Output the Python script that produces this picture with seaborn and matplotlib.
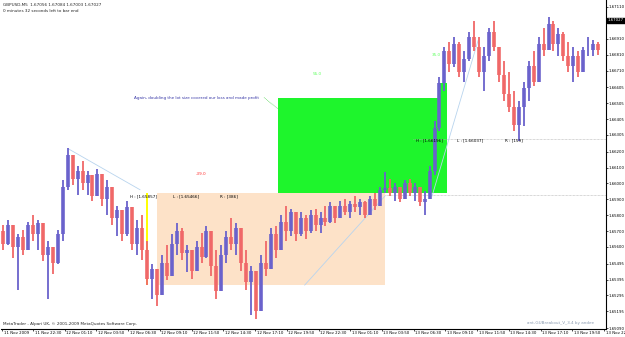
import matplotlib
matplotlib.use("Agg")
import matplotlib.pyplot as plt
import matplotlib.transforms as mtransforms
from matplotlib.patches import Rectangle
import pandas as pd
import seaborn as sns

# ---------------- data (GBPUSD M5, grouped 5 bars per drawn candle) ----------------
first_open = 1.6570
bar_step = 5
start_bar = -30
highs = [1.6574, 1.6577, 1.6572, 1.6568, 1.6571, 1.6576, 1.6580, 1.6577, 1.6569, 1.6564,
         1.6558, 1.6571, 1.6602, 1.6622, 1.6618, 1.6611, 1.6614, 1.6608, 1.6605, 1.6609,
         1.6605, 1.6602, 1.6593, 1.6586, 1.6583, 1.6589, 1.6580, 1.6577, 1.6580, 1.6564,
         1.6549, 1.6545, 1.6555, 1.6561, 1.6568, 1.6575, 1.6572, 1.6561, 1.6558, 1.6564,
         1.6569, 1.6573, 1.6565, 1.6558, 1.6561, 1.6570, 1.6578, 1.6575, 1.6567, 1.6558,
         1.6548, 1.6545, 1.6555, 1.6564, 1.6572, 1.6573, 1.6580, 1.6586, 1.6584, 1.6580,
         1.6582, 1.6580, 1.6583, 1.6584, 1.6582, 1.6586, 1.6588, 1.6586, 1.6589, 1.6590,
         1.6589, 1.6592, 1.6590, 1.6589, 1.6592, 1.6594, 1.6598, 1.6607, 1.6603, 1.6600,
         1.6598, 1.6602, 1.6603, 1.6600, 1.6598, 1.6595, 1.6611, 1.6639, 1.6667, 1.6686,
         1.6689, 1.6692, 1.6689, 1.6683, 1.6695, 1.6702, 1.6692, 1.6686, 1.6698, 1.6702,
         1.6686, 1.6677, 1.6670, 1.6658, 1.6652, 1.6664, 1.6677, 1.6683, 1.6692, 1.6698,
         1.6705, 1.6702, 1.6698, 1.6695, 1.6689, 1.6686, 1.6683, 1.6686, 1.6692, 1.6690,
         1.6689]
lows = [1.6558, 1.6561, 1.6553, 1.6533, 1.6555, 1.6559, 1.6564, 1.6558, 1.6551, 1.6527,
        1.6543, 1.6549, 1.6564, 1.6596, 1.6599, 1.6593, 1.6596, 1.6593, 1.6589, 1.6596,
        1.6586, 1.6580, 1.6574, 1.6567, 1.6564, 1.6567, 1.6558, 1.6555, 1.6552, 1.6536,
        1.6527, 1.6523, 1.6533, 1.6539, 1.6545, 1.6555, 1.6552, 1.6544, 1.6540, 1.6547,
        1.6550, 1.6553, 1.6542, 1.6527, 1.6536, 1.6550, 1.6558, 1.6555, 1.6545, 1.6533,
        1.6517, 1.6515, 1.6530, 1.6542, 1.6550, 1.6553, 1.6558, 1.6564, 1.6567, 1.6564,
        1.6567, 1.6565, 1.6569, 1.6570, 1.6569, 1.6573, 1.6575, 1.6575, 1.6578, 1.6580,
        1.6578, 1.6582, 1.6580, 1.6578, 1.6582, 1.6583, 1.6586, 1.6594, 1.6592, 1.6589,
        1.6588, 1.6590, 1.6592, 1.6589, 1.6586, 1.6580, 1.6592, 1.6605, 1.6633, 1.6658,
        1.6670, 1.6673, 1.6667, 1.6664, 1.6677, 1.6683, 1.6667, 1.6658, 1.6677, 1.6683,
        1.6664, 1.6652, 1.6645, 1.6633, 1.6627, 1.6636, 1.6652, 1.6661, 1.6670, 1.6680,
        1.6686, 1.6683, 1.6680, 1.6677, 1.6670, 1.6664, 1.6667, 1.6670, 1.6680, 1.6680,
        1.6681]
closes = [1.6562, 1.6574, 1.6560, 1.6566, 1.6558, 1.6574, 1.6568, 1.6575, 1.6555, 1.6560,
          1.6550, 1.6568, 1.6598, 1.6618, 1.6603, 1.6608, 1.6600, 1.6605, 1.6592, 1.6606,
          1.6590, 1.6598, 1.6578, 1.6583, 1.6568, 1.6585, 1.6562, 1.6572, 1.6558, 1.6540,
          1.6546, 1.6530, 1.6550, 1.6542, 1.6562, 1.6570, 1.6556, 1.6558, 1.6545, 1.6560,
          1.6554, 1.6570, 1.6548, 1.6532, 1.6555, 1.6566, 1.6562, 1.6572, 1.6550, 1.6538,
          1.6545, 1.6520, 1.6550, 1.6546, 1.6568, 1.6558, 1.6576, 1.6570, 1.6582, 1.6568,
          1.6578, 1.6570, 1.6580, 1.6574, 1.6578, 1.6576, 1.6586, 1.6578, 1.6586, 1.6582,
          1.6587, 1.6585, 1.6588, 1.6580, 1.6590, 1.6586, 1.6596, 1.6597, 1.6594, 1.6598,
          1.6590, 1.6600, 1.6594, 1.6598, 1.6588, 1.6590, 1.6608, 1.6635, 1.6663, 1.6683,
          1.6675, 1.6688, 1.6670, 1.6678, 1.6692, 1.6686, 1.6670, 1.6680, 1.6695, 1.6686,
          1.6668, 1.6656, 1.6648, 1.6637, 1.6648, 1.6660, 1.6674, 1.6664, 1.6688, 1.6684,
          1.6700, 1.6688, 1.6694, 1.6680, 1.6674, 1.6680, 1.6670, 1.6684, 1.6684, 1.6688,
          1.6684]

x_first_label = "11 Nov 2009"
x_tick_labels = ["11 Nov 22:30", "12 Nov 01:10", "12 Nov 03:50", "12 Nov 06:30",
                 "12 Nov 09:10", "12 Nov 11:50", "12 Nov 14:30", "12 Nov 17:10",
                 "12 Nov 19:50", "12 Nov 22:30", "13 Nov 01:10", "13 Nov 03:50",
                 "13 Nov 06:30", "13 Nov 09:10", "13 Nov 11:50", "13 Nov 14:30",
                 "13 Nov 17:10", "13 Nov 19:50", "13 Nov 22:30"]
x_tick_bars = [0, 32, 64, 96, 128, 160, 192, 224, 256, 288, 320, 352, 384, 416,
               448, 480, 512, 544, 576]
y_tick_values = [1.67110, 1.67010, 1.66910, 1.66810, 1.66710, 1.66605, 1.66505,
                 1.66405, 1.66305, 1.66200, 1.66100, 1.66000, 1.65900, 1.65800,
                 1.65700, 1.65600, 1.65495, 1.65395, 1.65295, 1.65195, 1.65090]
current_price = 1.67027
header_line1 = "GBPUSD,M5  1.67056 1.67084 1.67003 1.67027"
header_line2 = "0 minutes 32 seconds left to bar end"

# trade boxes: (start bar, end bar, low price, high price)
loss_box = (125, 355, 1.6536, 1.6594)
win_box = (247, 408.5, 1.6594, 1.6654)
win_box_tail = (408.5, 417.6, 1.6594, 1.6663)
entry_line = (115, 1.6536, 1.6594)
# trend lines: bars and prices of the two ends
trend_bars = [(35, 108), (274, 355), (402.5, 449)]
trend_prices = [(1.6622, 1.6596), (1.6536, 1.6592), (1.6592, 1.6690)]
level_lines = [(383, 1.6628), (355, 1.6593)]
label_row1 = ["H : [1.65857]", "L : [1.65466]", "R : [386]"]
label_row1_bars = [98, 141, 189]
label_row2 = ["H : [1.66196]", "L : [1.66037]", "R : [159]"]
label_row2_bars = [386, 428, 476]
pnl_texts = ["-39.0", "55.0", "35.0"]
pnl_bars = [164, 282, 402]
pnl_prices = [1.6606, 1.6669, 1.6681]
note_text = "Again, doubling the lot size covered our loss and made profit"

# ---------------- figure ----------------
sns.set_theme(style="white")
plt.rcParams["font.family"] = ["DejaVu Sans"]
FS = 3.0
FSY = 2.75
RED = "#f06868"
BLUE = "#6a62cc"

fig = plt.figure(figsize=(6.25, 3.37), dpi=100)
ax = fig.add_axes([1 / 625, 8 / 337, 605 / 625, 329 / 337])
ax.set_facecolor("white")
ax.set_xlim(-32.3, 578.0)
ax.set_ylim(1.65084, 1.67154)

# boxes
ax.add_patch(Rectangle((loss_box[0], loss_box[2]), loss_box[1] - loss_box[0],
                       loss_box[3] - loss_box[2], facecolor="#fde2c8", edgecolor="none", zorder=1))
ax.add_patch(Rectangle((win_box[0], win_box[2]), win_box[1] - win_box[0],
                       win_box[3] - win_box[2], facecolor="#1ef52c", edgecolor="none", zorder=1))
ax.add_patch(Rectangle((win_box_tail[0], win_box_tail[2]), win_box_tail[1] - win_box_tail[0],
                       win_box_tail[3] - win_box_tail[2], facecolor="#1ef52c", edgecolor="none", zorder=1))
ax.vlines(entry_line[0], entry_line[1], entry_line[2], color="#ffff00", lw=1.4, zorder=2)

for (b0, p0) in level_lines:
    ax.plot([b0, 578], [p0, p0], color="#b0b0b0", lw=0.5, ls=(0, (1, 1)), zorder=2)

# trend lines via seaborn
for tb, tp in zip(trend_bars, trend_prices):
    sns.lineplot(x=list(tb), y=list(tp), ax=ax, color="#b8d4ee", lw=0.6, zorder=2)

# candles
n = len(highs)
xs = [start_bar + bar_step * i for i in range(n)]
opens = [first_open] + closes[:-1]
df = pd.DataFrame({"x": xs, "high": highs, "low": lows, "open": opens, "close": closes})
df["color"] = [BLUE if c >= o else RED for o, c in zip(df["open"], df["close"])]
ax.vlines(df["x"], df["low"], df["high"], colors=df["color"], lw=1.3, zorder=3)
ax.vlines(df["x"], df[["open", "close"]].min(axis=1), df[["open", "close"]].max(axis=1),
          colors=df["color"], lw=2.6, zorder=3)

# texts
for t, b in zip(label_row1, label_row1_bars):
    ax.text(b, 1.6592, t, fontsize=FS, color="black", va="center", ha="left", zorder=5)
for t, b in zip(label_row2, label_row2_bars):
    ax.text(b, 1.6627, t, fontsize=FS, color="black", va="center", ha="left", zorder=5)
for t, b, p, c in zip(pnl_texts, pnl_bars, pnl_prices, ["#ff3030", "#60ff60", "#60ff60"]):
    ax.text(b, p, t, fontsize=FS, color=c, va="center", ha="left", zorder=5)
ax.text(102, 1.6654, note_text, fontsize=FS, color="#3a3aa8", va="center", ha="left", zorder=5)
ax.plot([233, 247], [1.6654, 1.6647], color="#40d040", lw=0.5, ls=(0, (1, 1)), zorder=5)

fig.text(3 / 625, 1 - 5 / 337, header_line1, fontsize=FS, va="center", ha="left")
fig.text(3 / 625, 1 - 11 / 337, header_line2, fontsize=FS, va="center", ha="left")
fig.text(3 / 625, 1 - 324 / 337, "MetaTrader - Alpari UK, \u00a9 2001-2009 MetaQuotes Software Corp.",
         fontsize=FS, va="center", ha="left")
fig.text(527 / 625, 1 - 323 / 337, "ant-GUBreakout_V_3.4 by andee", fontsize=FS,
         color="#8a9ab0", va="center", ha="left")

# axes styling
for side in ["top", "left"]:
    ax.spines[side].set_visible(False)
for side in ["right", "bottom"]:
    ax.spines[side].set_color("black")
    ax.spines[side].set_linewidth(0.8)
ax.yaxis.tick_right()
ax.set_yticks(y_tick_values)
ax.set_yticklabels([f"{v:.5f}" for v in y_tick_values])
ax.tick_params(axis="y", which="both", right=True, length=1.5, width=0.5, pad=0.5,
               labelsize=FSY, colors="black")
ax.set_xticks([-31] + x_tick_bars)
ax.set_xticklabels([x_first_label] + x_tick_labels)
ax.tick_params(axis="x", bottom=True, length=1.5, width=0.5, pad=0.2, labelsize=FSY, colors="black")
offset = mtransforms.ScaledTranslation(1.5 / 100, 0, fig.dpi_scale_trans)
for lbl in ax.get_xticklabels():
    lbl.set_horizontalalignment("left")
    lbl.set_transform(lbl.get_transform() + offset)
ax.grid(False)

# current price marker
ax.text(1.003, current_price, "1.67027", transform=mtransforms.blended_transform_factory(ax.transAxes, ax.transData),
        fontsize=FSY, color="white", va="center", ha="left", zorder=6,
        bbox=dict(boxstyle="square,pad=0.15", facecolor="black", edgecolor="black"))

fig.savefig("out.png", dpi=100, facecolor="white")
